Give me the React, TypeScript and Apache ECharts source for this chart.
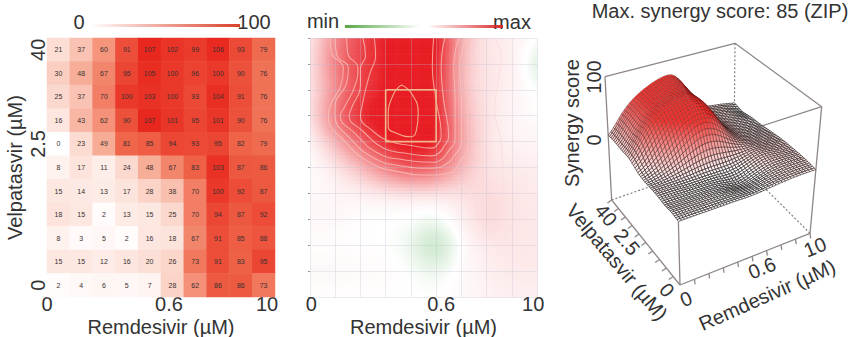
import React, { useEffect, useRef } from "react";
import * as echarts from "echarts";

const FONT = "Liberation Sans";
const INK = "#333333";

// Left panel: % inhibition, rows from Velpatasvir 40 (top) to 0 (bottom)
const remdesivirCells = ["c0", "c1", "c2", "c3", "c4", "c5", "c6", "c7", "c8", "c9"];
const velpatasvirCells = ["r0", "r1", "r2", "r3", "r4", "r5", "r6", "r7", "r8", "r9", "r10"];
const inhibition = [
  [21, 37, 60, 91, 107, 102, 99, 106, 93, 79],
  [30, 48, 67, 95, 105, 100, 96, 100, 90, 76],
  [25, 37, 70, 100, 103, 100, 93, 104, 91, 76],
  [16, 43, 62, 90, 107, 101, 95, 101, 90, 76],
  [0, 23, 49, 81, 85, 94, 93, 95, 82, 79],
  [8, 17, 11, 24, 48, 67, 83, 103, 87, 86],
  [15, 14, 13, 17, 28, 38, 70, 100, 92, 87],
  [18, 15, 2, 13, 15, 25, 70, 94, 87, 92],
  [8, 3, 5, 2, 16, 18, 67, 91, 85, 88],
  [15, 15, 12, 16, 20, 26, 73, 91, 83, 95],
  [2, 4, 6, 5, 7, 28, 62, 86, 86, 73],
];

// Middle and right panels: synergy scores, same row order
const synergy = [
  [3, 38, 60, 72, 81, 81, 20, 7, 5, 0],
  [4, 47, 60, 72, 81, 77, 18, 7, 7, -8],
  [4, 34, 60, 72, 81, 72, 18, 8, 4, 0],
  [4, 51, 72, 81, 85, 77, 24, 8, 3, 0],
  [0, 21, 51, 72, 81, 77, 28, 7, 4, 3],
  [0, 5, 19, 42, 60, 51, 22, 8, 7, 5],
  [2, 3, 3, 3, 3, 4, 8, 13, 8, 7],
  [3, 3, 0, 0, 0, -3, 4, 15, 8, 7],
  [0, 0, 0, 0, -3, -12, 0, 7, 8, 7],
  [3, 3, 2, 2, 0, -3, 2, 5, 7, 7],
  [0, 0, 0, 0, 0, 0, 2, 4, 5, 4],
];

// Contours on the middle panel, in grid units
const contourPeak = [[3.63, 8.19], [3.3, 7.81], [3.1, 6.97], [3.1, 6.58], [3.43, 6.32], [4.02, 6.19], [4.22, 6.45], [4.29, 7.1], [4.02, 7.87], [3.63, 8.19]];
const contour1 = [[0.79, 10], [0.86, 9.42], [1.32, 8.84], [1.25, 8.26], [0.79, 7.35], [0.73, 6.97], [1.39, 6], [2.44, 5.16], [3.5, 4.84], [4.68, 4.71], [5.47, 4.77], [6, 5.29], [6.27, 5.94], [6.24, 7.61], [6.2, 8.9], [6.4, 10]];
const contour2 = [[0.99, 10], [1.06, 9.35], [1.52, 8.84], [1.45, 8.26], [0.99, 7.35], [0.99, 7.03], [1.58, 6.13], [2.57, 5.35], [3.63, 5.06], [4.82, 4.97], [5.34, 5.1], [5.74, 5.48], [6, 6], [6, 7.6], [5.94, 8.9], [6.2, 10]];
const contour3 = [[1.45, 10], [1.5, 9.4], [1.9, 8.84], [1.8, 8.2], [1.35, 7.3], [1.2, 7], [1.8, 6.3], [2.7, 5.55], [3.7, 5.3], [4.8, 5.2], [5.2, 5.3], [5.5, 5.65], [5.75, 6.05], [5.75, 7.6], [5.7, 8.9], [5.9, 10]];
const contour4 = [[2.1, 10], [2.2, 9.3], [2, 8.84], [2, 8.2], [1.65, 7.3], [1.55, 7], [2.1, 6.4], [2.9, 5.75], [3.8, 5.55], [4.8, 5.45], [5.1, 5.55], [5.3, 5.8], [5.5, 6.2], [5.3, 7.6], [5.2, 8.9], [5.35, 10]];
const contour5 = [[2.55, 10], [2.6, 9.3], [2.4, 8.7], [2.2, 8], [2.05, 7.3], [2, 7], [2.5, 6.4], [3.2, 6], [4, 5.85], [4.8, 5.75], [5.1, 5.95], [5.2, 6.3], [5, 7.6], [4.85, 8.9], [4.9, 10]];
const contourOuter = [[7.32, 10], [7.59, 9.29], [7.45, 8.26], [7.32, 7.23], [7.59, 5.94], [7.65, 4.26], [7.45, 2.97], [7.06, 2.52], [6.73, 2.97], [6.4, 4], [5.87, 4.32]];
const contours = [contour1, contour2, contour3, contour4, contour5, contourPeak];
const selectionBox = [[3, 8], [5, 8], [5, 6], [3, 6], [3, 8]];

// Tick labels
const xTickLabels = ["0", "0.6", "10"];
const leftXTickAt = [0, 5.35, 9.65];
const midXTickAt = [0.05, 5.2, 8.85];
const leftYTickLabels = ["0", "", "", "", "", "", "2.5", "", "", "", "40"];

const rows = synergy.length;
const cols = synergy[0].length;
const clampIdx = (v: number, n: number) => Math.max(0, Math.min(n - 1, v));
const bs = (a: number, b: number, c: number, d: number, t: number) => {
  const u = 1 - t;
  return (u * u * u * a + (3 * t * t * t - 6 * t * t + 4) * b + (-3 * t * t * t + 3 * t * t + 3 * t + 1) * c + t * t * t * d) / 6;
};
// Smooth surface over the read values, as the reference's plots draw it
function surfaceAt(x: number, y: number) {
  const ix = Math.min(Math.floor(x), cols - 2);
  const iy = Math.min(Math.floor(y), rows - 2);
  const tx = x - ix;
  const ty = y - iy;
  const at = (c: number, yy: number) => synergy[rows - 1 - clampIdx(yy, rows)][clampIdx(c, cols)];
  const line = (yy: number) => bs(at(ix - 1, yy), at(ix, yy), at(ix + 1, yy), at(ix + 2, yy), tx);
  return bs(line(iy - 1), line(iy), line(iy + 1), line(iy + 2), ty);
}
const mix = (a: number[], b: number[], t: number) => {
  const k = Math.max(0, Math.min(1, t));
  return `rgb(${a.map((v, i) => Math.round(v + (b[i] - v) * k)).join(",")})`;
};
const WHITE = [255, 255, 255];
const heatColor = (s: number) =>
  s >= 0 ? mix(WHITE, [232, 30, 36], s / 72) : mix(WHITE, [205, 232, 205], -s / 7);
const meshColor = (s: number) =>
  s >= 0 ? mix(WHITE, [238, 50, 45], s / 62) : mix(WHITE, [205, 205, 205], -s / 12);

// Perspective box of the right panel: projection of (u, v, w) by its eight corners
const BF = [390, 855], BR = [780, 700], BL = [185, 600], BB = [552, 472];
const TF = [380, 460], TR = [815, 320], TL = [165, 230], TB = [555, 130];
const lerp2 = (a: number[], b: number[], t: number) => [a[0] + (b[0] - a[0]) * t, a[1] + (b[1] - a[1]) * t];
function project(u: number, v: number, w: number) {
  const bot = lerp2(lerp2(BF, BR, u), lerp2(BL, BB, u), v);
  const top = lerp2(lerp2(TF, TR, u), lerp2(TL, TB, u), v);
  return lerp2(bot, top, w);
}
const zToW = (s: number) => 0.48 + s * 0.005;
const STEPS_MESH = 5;
const STEPS_HEAT = 8;

function renderHeatPatch(_: any, api: any) {
  const c = api.value(0);
  const y = api.value(1);
  if (c >= cols - 1 || y >= rows - 1) return null;
  const children: any[] = [];
  const d = 1 / STEPS_HEAT;
  for (let i = 0; i < STEPS_HEAT; i++) {
    for (let j = 0; j < STEPS_HEAT; j++) {
      const x0 = c + i * d;
      const y0 = y + j * d;
      const p0 = api.coord([x0, y0 + d]);
      const p1 = api.coord([x0 + d, y0]);
      children.push({
        type: "rect",
        shape: { x: p0[0], y: p0[1], width: p1[0] - p0[0] + 0.6, height: p1[1] - p0[1] + 0.6 },
        style: { fill: heatColor(surfaceAt(x0 + d / 2, y0 + d / 2)) },
      });
    }
  }
  return { type: "group", children };
}

function renderMeshPatch(_: any, api: any) {
  const c = api.value(0);
  const y = api.value(1);
  if (c >= cols - 1 || y >= rows - 1) return null;
  const children: any[] = [];
  const d = 1 / STEPS_MESH;
  const pt = (xx: number, yy: number) => {
    const p = project(xx / (cols - 1), yy / (rows - 1), zToW(surfaceAt(xx, yy)));
    return api.coord(p);
  };
  for (let j = STEPS_MESH - 1; j >= 0; j--) {
    for (let i = STEPS_MESH - 1; i >= 0; i--) {
      const x0 = c + i * d;
      const y0 = y + j * d;
      const s = surfaceAt(x0 + d / 2, y0 + d / 2);
      const high = Math.max(0, Math.min(1, s / 60));
      children.push({
        type: "polygon",
        shape: { points: [pt(x0, y0), pt(x0 + d, y0), pt(x0 + d, y0 + d), pt(x0, y0 + d)] },
        style: {
          fill: meshColor(s),
          stroke: `rgba(${30 + 50 * high},${25 - 10 * high},${25 - 10 * high},${0.85 - 0.3 * high})`,
          lineWidth: 0.75 - 0.3 * high,
        },
      });
    }
  }
  return { type: "group", children };
}

const boxLine = (api: any, a: number[], b: number[], dotted: boolean) => ({
  type: "line",
  shape: { x1: api.coord(a)[0], y1: api.coord(a)[1], x2: api.coord(b)[0], y2: api.coord(b)[1] },
  style: dotted
    ? { stroke: "#7d7575", lineWidth: 1.1, lineDash: [2, 2] }
    : { stroke: "#8f8787", lineWidth: 1.3 },
});

function renderBoxBack(_: any, api: any) {
  return {
    type: "group",
    children: [
      boxLine(api, TL, TB, false),
      boxLine(api, TB, TR, false),
      boxLine(api, TR, TF, false),
      boxLine(api, TL, BL, false),
      boxLine(api, TR, BR, false),
      boxLine(api, BL, BB, true),
      boxLine(api, BR, BB, true),
      boxLine(api, TB, BB, true),
    ],
  };
}

function renderBoxFront(_: any, api: any) {
  const children: any[] = [
    boxLine(api, BF, project(0, 0, zToW(0)), false),
    boxLine(api, BF, BL, false),
    boxLine(api, BF, BR, false),
  ];
  for (let i = 1; i <= 9; i++) {
    const a = lerp2(BF, BR, i / 9);
    children.push(boxLine(api, a, [a[0] + 2, a[1] + 15], false));
  }
  for (let i = 1; i <= 10; i++) {
    const a = lerp2(BF, BL, i / 10);
    children.push(boxLine(api, a, [a[0] - 13, a[1] + 9], false));
  }
  return { type: "group", children };
}

const deg = (d: number) => (d * Math.PI) / 180;
const label = (text: string, x: number, y: number, rot = 0, size = 20) => ({
  type: "text",
  x,
  y,
  rotation: deg(rot),
  silent: true,
  style: { text, align: "center", verticalAlign: "middle", font: `${size}px "${FONT}"`, fill: INK },
});
const bar = (x: number, y: number, w: number, h: number, stops: any[]) => ({
  type: "rect",
  silent: true,
  shape: { x, y, width: w, height: h },
  style: { fill: new echarts.graphic.LinearGradient(0, 0, 1, 0, stops) },
});

function buildOption() {
  const heatData: number[][] = [];
  inhibition.forEach((row, r) => row.forEach((v, c) => heatData.push([c, rows - 1 - r, v])));
  const synData: number[][] = [];
  synergy.forEach((row, r) => row.forEach((v, c) => synData.push([c, rows - 1 - r, v])));
  const meshData = synData.slice().sort((a, b) => b[1] - a[1] || b[0] - a[0]);
  const textStyle = { fontFamily: FONT, color: INK, fontSize: 20 };
  const hiddenVal = { type: "value", show: false, splitLine: { show: false } };
  const xName = {
    name: "Remdesivir (µM)",
    nameLocation: "middle",
    nameGap: 20,
    nameMoveOverlap: false,
    nameTextStyle: textStyle,
  };
  const customLabels = (at: number[]) => ({
    ...textStyle,
    margin: -3,
    customValues: at,
    formatter: (v: number) => xTickLabels[at.indexOf(v)] ?? "",
  });
  return {
    animation: false,
    backgroundColor: "#ffffff",
    textStyle: { fontFamily: FONT },
    grid: [
      { left: 47, top: 38, width: 228, height: 259, outerBoundsMode: "none" },
      { left: 310, top: 38, width: 227, height: 259, outerBoundsMode: "none" },
      { left: 550, top: 0, width: 304, height: 337, outerBoundsMode: "none" },
    ],
    xAxis: [
      { gridIndex: 0, type: "category", data: remdesivirCells, axisLabel: { show: false }, axisTick: { show: false }, axisLine: { show: false } },
      {
        gridIndex: 0, type: "value", min: 0, max: 10, position: "bottom", ...xName,
        axisLabel: customLabels(leftXTickAt), axisTick: { show: false }, axisLine: { show: false, onZero: false }, splitLine: { show: false },
      },
      {
        gridIndex: 1, type: "value", min: 0, max: 9, interval: 1, z: 5, ...xName,
        axisLabel: customLabels(midXTickAt), axisTick: { show: false }, axisLine: { show: false },
        splitLine: { show: true, lineStyle: { color: "rgba(190,190,210,0.3)", width: 1 } },
      },
      { gridIndex: 2, ...hiddenVal, min: 0, max: 912 },
    ],
    yAxis: [
      {
        gridIndex: 0, type: "category", data: velpatasvirCells, name: "Velpatasvir (µM)", nameLocation: "middle", nameGap: 22,
        nameMoveOverlap: false,
        nameTextStyle: textStyle,
        axisLabel: { ...textStyle, rotate: 90, interval: 0, margin: -1, align: "center", verticalAlign: "bottom", formatter: (_: string, i: number) => leftYTickLabels[i] },
        axisTick: { show: false }, axisLine: { show: false },
      },
      {
        gridIndex: 1, type: "value", min: 0, max: 10, interval: 1, z: 5,
        axisLabel: { show: false }, axisLine: { show: false },
        axisTick: { show: true, length: 2, lineStyle: { color: "#999" } },
        splitLine: { show: true, lineStyle: { color: "rgba(190,190,210,0.3)", width: 1 } },
      },
      { gridIndex: 2, ...hiddenVal, min: 0, max: 1011, inverse: true },
    ],
    visualMap: [
      {
        show: false, seriesIndex: 0, dimension: 2, min: 0, max: 107,
        inRange: { color: ["#ffffff", "#fbd5ca", "#f6a48c", "#ef684c", "#e8281e"] },
      },
    ],
    series: [
      {
        type: "heatmap", xAxisIndex: 0, yAxisIndex: 0, data: heatData, silent: true,
        label: { show: true, fontSize: 7, color: "#3a3030", fontFamily: FONT, formatter: (p: any) => String(p.value[2]) },
        itemStyle: { borderWidth: 0 },
      },
      { type: "custom", xAxisIndex: 2, yAxisIndex: 1, data: synData, renderItem: renderHeatPatch, silent: true, clip: false, z: 2 },
      ...contours.map((c, i) => ({
        type: "line", xAxisIndex: 2, yAxisIndex: 1, data: c, smooth: true, showSymbol: false, silent: true, z: 6,
        lineStyle: { color: i === 5 ? "rgba(245,185,150,0.9)" : "rgba(250,195,185,0.75)", width: 1.1 },
      })),
      {
        type: "line", xAxisIndex: 2, yAxisIndex: 1, data: contourOuter, smooth: true, showSymbol: false, silent: true, z: 6,
        lineStyle: { color: "rgba(250,220,220,0.8)", width: 1.1 },
      },
      {
        type: "line", xAxisIndex: 2, yAxisIndex: 1, data: selectionBox, showSymbol: false, silent: true, z: 7,
        lineStyle: { color: "#ecb98c", width: 1.6 },
      },
      { type: "custom", xAxisIndex: 3, yAxisIndex: 2, data: [0], renderItem: renderBoxBack, silent: true, clip: false, z: 2 },
      { type: "custom", xAxisIndex: 3, yAxisIndex: 2, data: meshData, renderItem: renderMeshPatch, silent: true, clip: false, z: 3 },
      { type: "custom", xAxisIndex: 3, yAxisIndex: 2, data: [0], renderItem: renderBoxFront, silent: true, clip: false, z: 4 },
    ],
    graphic: [
      label("0", 79, 22),
      label("100", 254, 22),
      bar(90, 24, 150, 3, [{ offset: 0, color: "rgba(225,70,45,0)" }, { offset: 1, color: "#d8402a" }]),
      label("min", 323, 21),
      label("max", 512, 22),
      bar(345, 25, 75, 3, [{ offset: 0, color: "#57a845" }, { offset: 1, color: "rgba(87,168,69,0)" }]),
      bar(428, 25, 75, 3, [{ offset: 0, color: "rgba(220,40,40,0)" }, { offset: 1, color: "#d92a2a" }]),
      label("Max. synergy score: 85 (ZIP)", 720, 11),
      label("Synergy score", 572, 123, 90),
      label("100", 594, 77, 90),
      label("0", 594, 140, 90),
      label("Velpatasvir (µM)", 617, 262, -50),
      label("40", 606, 215, -50),
      label("2.5", 627, 242, -50),
      label("0", 667, 290, -50),
      label("Remdesivir (µM)", 767, 295, 24),
      label("0", 686, 299, 22),
      label("0.6", 762, 268, 22),
      label("10", 815, 247, 22),
    ],
  };
}

export default function App() {
  const ref = useRef<HTMLDivElement>(null);
  useEffect(() => {
    document.body.style.margin = "0";
    const chart = echarts.init(ref.current!, undefined, { renderer: "svg" });
    chart.setOption(buildOption() as any);
    return () => chart.dispose();
  }, []);
  return <div ref={ref} style={{ width: 854, height: 337 }} />;
}
